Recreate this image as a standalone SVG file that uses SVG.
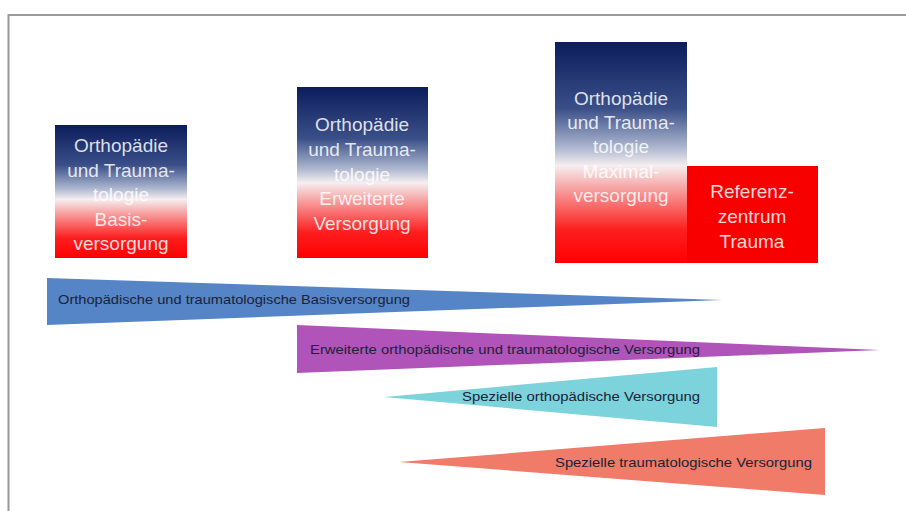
<svg xmlns="http://www.w3.org/2000/svg" width="906" height="511" viewBox="0 0 906 511">
<defs>
<linearGradient id="flag" x1="0" y1="0" x2="0" y2="1">
<stop offset="0" stop-color="#0b1d5c"/>
<stop offset="0.3" stop-color="#3a4f88"/>
<stop offset="0.48" stop-color="#aeb8d0"/>
<stop offset="0.56" stop-color="#f6eef0"/>
<stop offset="0.66" stop-color="#f7a4a4"/>
<stop offset="0.85" stop-color="#fd1e1e"/>
<stop offset="1" stop-color="#ff0000"/>
</linearGradient>
<style>
.box{fill:url(#flag)}
.btxt{font-family:"Liberation Sans",Arial,sans-serif;font-size:19px;fill:#ffffff;fill-opacity:0.85;text-anchor:middle}
.ttxt{font-family:"Liberation Sans",Arial,sans-serif;font-size:13px;fill:#1b2238}
.frame{stroke:#9a9a9a;stroke-width:2;fill:none}
</style>
</defs>
<rect width="906" height="511" fill="#ffffff"/>
<path class="frame" d="M8.5,511 V15 H906"/>

<g id="box-basis">
<rect class="box" x="55" y="125" width="132" height="133"/>
<text class="btxt" x="121" y="152">Orthopädie</text>
<text class="btxt" x="121" y="177">und Trauma-</text>
<text class="btxt" x="121" y="201">tologie</text>
<text class="btxt" x="121" y="226">Basis-</text>
<text class="btxt" x="121" y="250">versorgung</text>
</g>

<g id="box-erweitert">
<rect class="box" x="297" y="87" width="131" height="171"/>
<text class="btxt" x="362" y="131">Orthopädie</text>
<text class="btxt" x="362" y="156">und Trauma-</text>
<text class="btxt" x="362" y="181">tologie</text>
<text class="btxt" x="362" y="205">Erweiterte</text>
<text class="btxt" x="362" y="230">Versorgung</text>
</g>

<g id="box-maximal">
<rect class="box" x="555" y="42" width="132" height="221"/>
<text class="btxt" x="621" y="105">Orthopädie</text>
<text class="btxt" x="621" y="129">und Trauma-</text>
<text class="btxt" x="621" y="153">tologie</text>
<text class="btxt" x="621" y="178">Maximal-</text>
<text class="btxt" x="621" y="202">versorgung</text>
</g>

<g id="box-referenz">
<rect x="687" y="166" width="131" height="97" fill="#f80000"/>
<text class="btxt" x="752" y="198">Referenz-</text>
<text class="btxt" x="752" y="223">zentrum</text>
<text class="btxt" x="752" y="248">Trauma</text>
</g>

<g id="wedge-basis">
<polygon points="47,278 722,300 47,325" fill="#5585c6"/>
<text class="ttxt" x="58" y="304" textLength="352" lengthAdjust="spacingAndGlyphs">Orthopädische und traumatologische Basisversorgung</text>
</g>

<g id="wedge-erweitert">
<polygon points="297,325 880,350 297,373" fill="#b054b9"/>
<text class="ttxt" x="310" y="354" textLength="390" lengthAdjust="spacingAndGlyphs">Erweiterte orthopädische und traumatologische Versorgung</text>
</g>

<g id="wedge-ortho">
<polygon points="384,397 717,367 717,427" fill="#7dd3dc"/>
<text class="ttxt" x="462" y="401" textLength="238" lengthAdjust="spacingAndGlyphs">Spezielle orthopädische Versorgung</text>
</g>

<g id="wedge-trauma">
<polygon points="399,462 825,428 825,495" fill="#ef7b68"/>
<text class="ttxt" x="555" y="467" textLength="257" lengthAdjust="spacingAndGlyphs">Spezielle traumatologische Versorgung</text>
</g>
</svg>
